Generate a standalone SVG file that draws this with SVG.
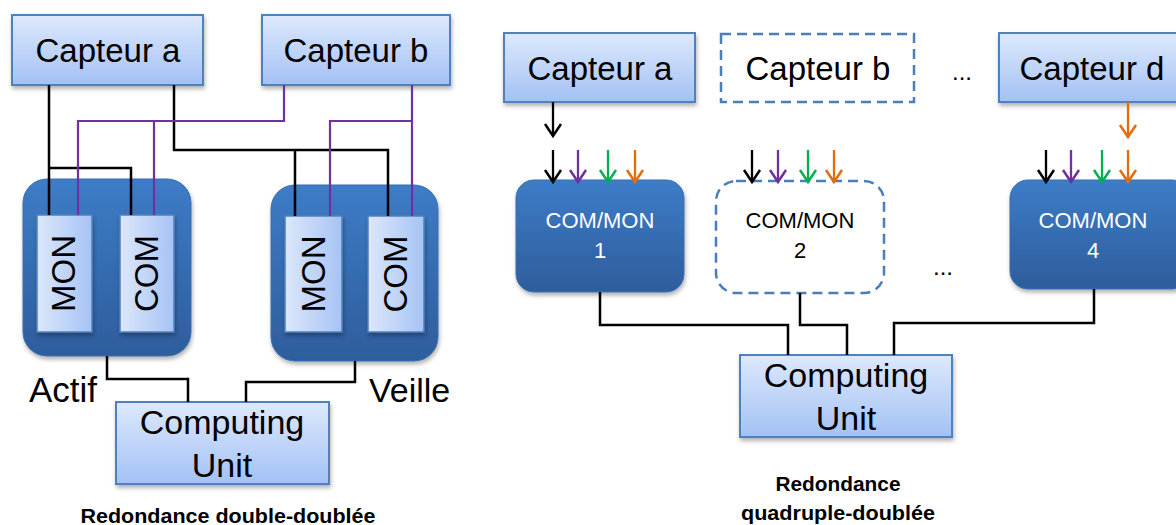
<svg xmlns="http://www.w3.org/2000/svg" width="1176" height="525" viewBox="0 0 1176 525">
<defs>
<linearGradient id="gBox" x1="0" y1="0" x2="0" y2="1"><stop offset="0" stop-color="#DDE9FC"/><stop offset="1" stop-color="#A3C1F5"/></linearGradient>
<linearGradient id="gInner" x1="0" y1="0" x2="1" y2="0"><stop offset="0" stop-color="#DCE7FB"/><stop offset="1" stop-color="#A6C3F4"/></linearGradient>
<linearGradient id="gMod" x1="0" y1="0" x2="0" y2="1"><stop offset="0" stop-color="#3D7CC7"/><stop offset="1" stop-color="#2E5D9C"/></linearGradient>
<filter id="sh" x="-10%" y="-10%" width="130%" height="140%"><feDropShadow dx="1" dy="3" stdDeviation="2" flood-color="#000" flood-opacity="0.3"/></filter>
<marker id="ak" markerWidth="24" markerHeight="24" refX="0" refY="0" orient="auto" markerUnits="userSpaceOnUse" overflow="visible"><path d="M-12,-8 L0,0 L-12,8" fill="none" stroke="#000" stroke-width="2.5"/></marker>
<marker id="ap" markerWidth="24" markerHeight="24" refX="0" refY="0" orient="auto" markerUnits="userSpaceOnUse" overflow="visible"><path d="M-12,-8 L0,0 L-12,8" fill="none" stroke="#7030A0" stroke-width="2.5"/></marker>
<marker id="ag" markerWidth="24" markerHeight="24" refX="0" refY="0" orient="auto" markerUnits="userSpaceOnUse" overflow="visible"><path d="M-12,-8 L0,0 L-12,8" fill="none" stroke="#00B050" stroke-width="2.5"/></marker>
<marker id="ao" markerWidth="24" markerHeight="24" refX="0" refY="0" orient="auto" markerUnits="userSpaceOnUse" overflow="visible"><path d="M-12,-8 L0,0 L-12,8" fill="none" stroke="#E46C0A" stroke-width="2.5"/></marker>
</defs>
<style>
.box{fill:url(#gBox);stroke:#4F81BD;stroke-width:2;filter:url(#sh)}
.inner{fill:url(#gInner);stroke:#4F81BD;stroke-width:1.5;filter:url(#sh)}
.mod{fill:url(#gMod);stroke:#3A6FB0;stroke-width:1;filter:url(#sh)}
.dash{fill:#fff;stroke:#4A7EBB;stroke-width:2.5;stroke-dasharray:10 6}
.t{font-family:"Liberation Sans",Arial,sans-serif;fill:#000;text-anchor:middle}
.big{font-size:33px}
.cu{font-size:34px}
.mt{font-size:22px}
.cap{font-size:20px;font-weight:bold}
.k{fill:none;stroke:#000;stroke-width:2.5}
.p{fill:none;stroke:#7030A0;stroke-width:2.2}
.ar{fill:none;stroke-width:2.3}
</style>

<g id="left-capteur-a"><rect class="box" x="12" y="15" width="191" height="70"/><text class="t big" x="108" y="62">Capteur a</text></g>
<g id="left-capteur-b"><rect class="box" x="262" y="15" width="188" height="70"/><text class="t big" x="356" y="62">Capteur b</text></g>

<g id="left-actif"><rect class="mod" x="23" y="179" width="168" height="177" rx="24"/>
<rect class="inner" x="37" y="215" width="55" height="117"/>
<text class="t big" transform="translate(75,273.5) rotate(-90)">MON</text>
<rect class="inner" x="120" y="215" width="54" height="117"/>
<text class="t big" transform="translate(158,273.5) rotate(-90)">COM</text></g>

<g id="left-veille"><rect class="mod" x="271" y="185" width="167" height="176" rx="24"/>
<rect class="inner" x="285" y="216" width="57" height="116"/>
<text class="t big" transform="translate(325,274) rotate(-90)">MON</text>
<rect class="inner" x="368" y="216" width="56" height="116"/>
<text class="t big" transform="translate(407,274) rotate(-90)">COM</text></g>

<g id="label-actif"><text class="t" style="font-size:35px;text-anchor:start" x="29" y="402">Actif</text></g>
<g id="label-veille"><text class="t" style="font-size:34px;text-anchor:start" x="369" y="402">Veille</text></g>

<g id="left-cu"><rect class="box" x="116" y="402" width="213" height="82"/>
<text class="t cu" x="222" y="434">Computing</text><text class="t cu" x="222" y="477">Unit</text></g>

<g id="left-caption"><text class="t cap" x="228" y="523" textLength="295" lengthAdjust="spacingAndGlyphs">Redondance double-doublée</text></g>

<g id="left-connectors">
<path class="k" d="M49,85 V215 M49,168 H131 V215"/>
<path class="k" d="M174,85 V150 H388 V216 M295,150 V216"/>
<path class="p" d="M284,85 V121 H78 V215 M154,121 V215"/>
<path class="p" d="M412,85 V216 M412,121 H330 V216"/>
<path class="k" d="M107,356 V379 H188 V402"/>
<path class="k" d="M355,361 V382 H246 V402"/>
</g>

<g id="right-capteur-a"><rect class="box" x="504" y="33" width="191" height="69"/><text class="t big" x="600" y="80">Capteur a</text></g>
<g id="right-capteur-b"><rect class="dash" x="721" y="34" width="193" height="68"/><text class="t big" x="818" y="80">Capteur b</text></g>
<g id="dots-top"><text class="t" style="font-size:24px" x="962" y="80">...</text></g>
<g id="right-capteur-d"><rect class="box" x="999" y="33" width="195" height="69"/><text class="t big" x="1092" y="80">Capteur d</text></g>

<g id="mod1"><rect class="mod" x="516" y="180" width="168" height="112" rx="18"/>
<text class="t mt" x="600" y="228" style="fill:#fff">COM/MON</text><text class="t mt" x="600" y="258" style="fill:#fff">1</text></g>
<g id="mod2"><rect class="dash" x="716" y="181" width="168" height="112" rx="20"/>
<text class="t mt" x="800" y="228">COM/MON</text><text class="t mt" x="800" y="258">2</text></g>
<g id="dots-mid"><text class="t" style="font-size:24px" x="943" y="275">...</text></g>
<g id="mod4"><rect class="mod" x="1010" y="180" width="180" height="109" rx="18"/>
<text class="t mt" x="1093" y="228" style="fill:#fff">COM/MON</text><text class="t mt" x="1093" y="258" style="fill:#fff">4</text></g>

<g id="right-cu"><rect class="box" x="740" y="355" width="212" height="82"/>
<text class="t cu" x="846" y="387">Computing</text><text class="t cu" x="846" y="430">Unit</text></g>

<g id="right-caption"><text class="t cap" x="838" y="491" textLength="125" lengthAdjust="spacingAndGlyphs">Redondance</text>
<text class="t cap" x="838" y="520" textLength="194" lengthAdjust="spacingAndGlyphs">quadruple-doublée</text></g>

<g id="right-connectors">
<path class="ar" stroke="#000" d="M553,102 V136" marker-end="url(#ak)"/>
<path class="ar" stroke="#E46C0A" d="M1128,102 V137" marker-end="url(#ao)"/>
<path class="ar" stroke="#000" d="M553,150 V182" marker-end="url(#ak)"/>
<path class="ar" stroke="#7030A0" d="M578,150 V182" marker-end="url(#ap)"/>
<path class="ar" stroke="#00B050" d="M608,150 V182" marker-end="url(#ag)"/>
<path class="ar" stroke="#E46C0A" d="M635,150 V182" marker-end="url(#ao)"/>
<path class="ar" stroke="#000" d="M752,150 V182" marker-end="url(#ak)"/>
<path class="ar" stroke="#7030A0" d="M778,150 V182" marker-end="url(#ap)"/>
<path class="ar" stroke="#00B050" d="M808,150 V182" marker-end="url(#ag)"/>
<path class="ar" stroke="#E46C0A" d="M834,150 V182" marker-end="url(#ao)"/>
<path class="ar" stroke="#000" d="M1046,150 V182" marker-end="url(#ak)"/>
<path class="ar" stroke="#7030A0" d="M1071,150 V182" marker-end="url(#ap)"/>
<path class="ar" stroke="#00B050" d="M1102,150 V182" marker-end="url(#ag)"/>
<path class="ar" stroke="#E46C0A" d="M1128,150 V182" marker-end="url(#ao)"/>
<path class="k" d="M600,292 V325 H788 V355"/>
<path class="k" d="M800,293 V325 H847 V355"/>
<path class="k" d="M1094,289 V323 H894 V355"/>
</g>
</svg>
